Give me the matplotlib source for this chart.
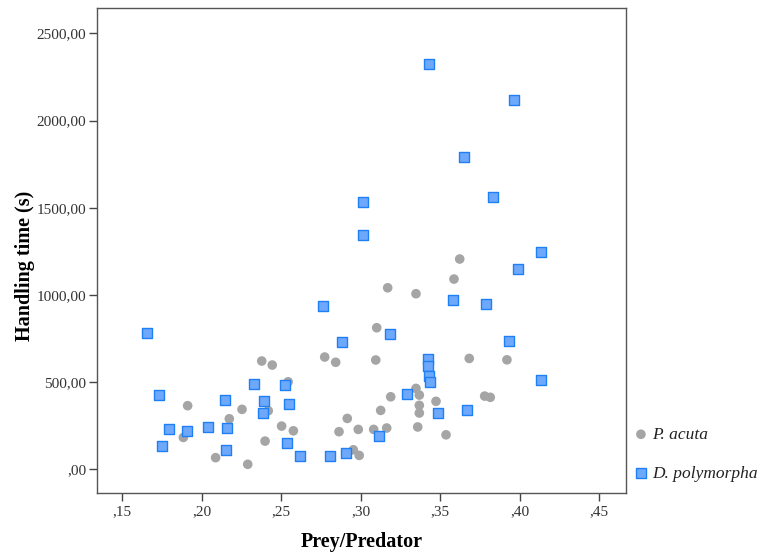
import matplotlib
matplotlib.use("Agg")
import matplotlib.pyplot as plt
from matplotlib.ticker import FuncFormatter

# P. acuta (circles)
acuta_x = [0.1884, 0.1911, 0.2087, 0.2173, 0.2253, 0.2289, 0.2377, 0.2398, 0.2418,
           0.2443, 0.2502, 0.2543, 0.2576, 0.2773, 0.2842, 0.2863, 0.2915, 0.2953,
           0.2984, 0.2990, 0.3081, 0.3094, 0.3100, 0.3125, 0.3163, 0.3169, 0.3188,
           0.3347, 0.3347, 0.3358, 0.3368, 0.3368, 0.3368, 0.3473, 0.3536, 0.3586,
           0.3622, 0.3682, 0.3779, 0.3814, 0.3919]
acuta_y = [183, 365, 67, 290, 344, 29, 621, 162, 336,
           598, 248, 502, 221, 644, 614, 216, 292, 112,
           229, 80, 229, 627, 812, 338, 237, 1041, 416,
           1007, 464, 243, 426, 367, 323, 390, 198, 1091,
           1206, 636, 420, 413, 628]

# D. polymorpha (squares)
poly_x = [0.1653, 0.1731, 0.1750, 0.1794, 0.1905, 0.2041, 0.2148, 0.2161, 0.2152,
          0.2330, 0.2391, 0.2383, 0.2525, 0.2547, 0.2538, 0.2616, 0.2762, 0.2806,
          0.2880, 0.2909, 0.3012, 0.3012, 0.3113, 0.3184, 0.3290, 0.3423, 0.3425,
          0.3427, 0.3435, 0.3430, 0.3487, 0.3578, 0.3647, 0.3666, 0.3789, 0.3833,
          0.3934, 0.3966, 0.3991, 0.4133, 0.4133]
poly_y = [780, 426, 135, 233, 221, 243, 397, 235, 111,
          491, 390, 321, 485, 373, 149, 76, 935, 76,
          728, 92, 1531, 1343, 193, 778, 432, 634, 594,
          537, 501, 2322, 325, 971, 1789, 340, 946, 1560,
          734, 2118, 1147, 1248, 510]

xticks = [0.15, 0.20, 0.25, 0.30, 0.35, 0.40, 0.45]
yticks = [0, 500, 1000, 1500, 2000, 2500]

plt.rcParams['font.family'] = ['Liberation Serif', 'DejaVu Serif']

fig = plt.figure(figsize=(7.57, 5.57), dpi=100)
ax = fig.add_axes([0.1275, 0.1154, 0.6995, 0.8702])

ax.scatter(acuta_x, acuta_y, s=48, marker='o', color='#a5a5a5', edgecolors='none',
           label='P. acuta', zorder=2)
ax.scatter(poly_x, poly_y, s=46, marker='s', facecolor='#6ea8fb', edgecolors='#1f80f5',
           linewidths=1.0, label='D. polymorpha', zorder=3)

ax.set_xlim(0.1338, 0.4668)
ax.set_ylim(-134, 2645)
ax.set_xticks(xticks)
ax.set_yticks(yticks)


def fmt_x(v, pos):
    return ('%.2f' % v).lstrip('0').replace('.', ',')


def fmt_y(v, pos):
    s = ('%.2f' % v).replace('.', ',')
    if s.startswith('0,'):
        s = s[1:]
    return s


ax.xaxis.set_major_formatter(FuncFormatter(fmt_x))
ax.yaxis.set_major_formatter(FuncFormatter(fmt_y))
ax.tick_params(direction='out', length=6, width=1, color='#444444',
               labelsize=11, labelcolor='#333333', pad=1.5)
ax.tick_params(axis='x', pad=3)
for sp in ax.spines.values():
    sp.set_color('#555555')
    sp.set_linewidth(1.0)

ax.set_xlabel('Prey/Predator', fontsize=14.5, fontweight='bold', labelpad=10)
ax.set_ylabel('Handling time (s)', fontsize=14.5, fontweight='bold', labelpad=1)
ax.yaxis.label.set_y(0.468)

leg = ax.legend(loc='upper left', bbox_to_anchor=(0.8375, 0.234),
                bbox_transform=fig.transFigure, frameon=False,
                prop={'style': 'italic', 'size': 12.5}, handletextpad=0.25,
                labelspacing=1.3, borderaxespad=0, borderpad=0, handlelength=0.8)
for t in leg.get_texts():
    t.set_color('#222222')

fig.savefig('out.png', dpi=100)
